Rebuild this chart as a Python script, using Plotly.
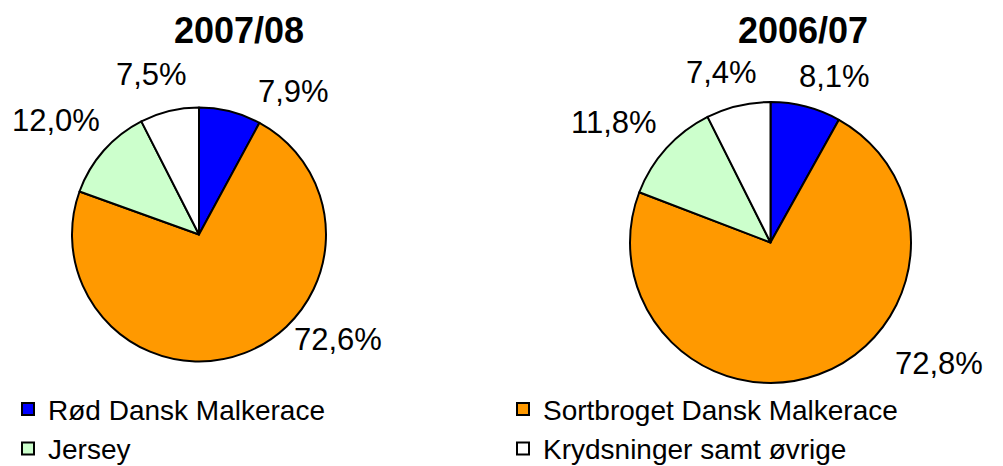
import plotly.graph_objects as go

categories = ["Rød Dansk Malkerace", "Sortbroget Dansk Malkerace", "Jersey", "Krydsninger samt øvrige"]
colors = ["#0000FF", "#FF9900", "#CCFFCC", "#FFFFFF"]
values_0708 = [7.9, 72.6, 12.0, 7.5]
values_0607 = [8.1, 72.8, 11.8, 7.4]
titles = ["2007/08", "2006/07"]

# page body has an 8px margin; figure is sized so it fills the 1003x466 window
OFF = 8
W, H = 1003 - OFF, 466 - OFF

def px_dom(cx, cy, r):
    cx -= OFF
    cy -= OFF
    return dict(x=[(cx - r) / W, (cx + r) / W], y=[1 - (cy + r) / H, 1 - (cy - r) / H])

def px_pt(x, y):
    return (x - OFF) / W, 1 - (y - OFF) / H

fig = go.Figure()
fig.add_trace(go.Pie(
    labels=categories, values=values_0708, sort=False, direction="clockwise", rotation=0,
    marker=dict(colors=colors, line=dict(color="black", width=2)),
    textinfo="none", hoverinfo="label+percent", domain=px_dom(199, 234.5, 127),
    showlegend=True,
))
fig.add_trace(go.Pie(
    labels=categories, values=values_0607, sort=False, direction="clockwise", rotation=0,
    marker=dict(colors=colors, line=dict(color="black", width=2)),
    textinfo="none", hoverinfo="label+percent", domain=px_dom(770.5, 242.5, 140.5),
    showlegend=False,
))

def fmt(v):
    return f"{v:.1f}%".replace(".", ",")

# label positions (pixel centers in the window) in slice order
label_pos_0708 = [(293, 92), (338, 339), (56, 120), (151, 75)]
label_pos_0607 = [(834, 77), (939, 363), (614, 122), (721, 72)]

annotations = []
for vals, poss in ((values_0708, label_pos_0708), (values_0607, label_pos_0607)):
    for v, (x, y) in zip(vals, poss):
        ax, ay = px_pt(x, y)
        annotations.append(dict(
            x=ax, y=ay, xref="paper", yref="paper", text=fmt(v), showarrow=False,
            xanchor="center", yanchor="middle",
            font=dict(family="Liberation Sans, Arial, sans-serif", size=31, color="black"),
        ))
for t, (x, y) in zip(titles, [(239, 30), (803, 30)]):
    ax, ay = px_pt(x, y)
    annotations.append(dict(
        x=ax, y=ay, xref="paper", yref="paper", text=f"<b>{t}</b>", showarrow=False,
        xanchor="center", yanchor="middle",
        font=dict(family="Liberation Sans, Arial, sans-serif", size=36, color="black"),
    ))

fig.update_layout(
    width=W, height=H,
    margin=dict(l=0, r=0, t=0, b=0, autoexpand=False),
    paper_bgcolor="white", plot_bgcolor="white",
    annotations=annotations,
    legend=dict(
        orientation="h", x=0, xanchor="left", y=-0.016, yanchor="bottom",
        entrywidth=450, entrywidthmode="pixels", traceorder="normal",
        font=dict(family="Liberation Sans, Arial, sans-serif", size=28, color="black"),
        bgcolor="rgba(0,0,0,0)", borderwidth=0,
        tracegroupgap=0,
    ),
)

fig.write_html("out.html")
